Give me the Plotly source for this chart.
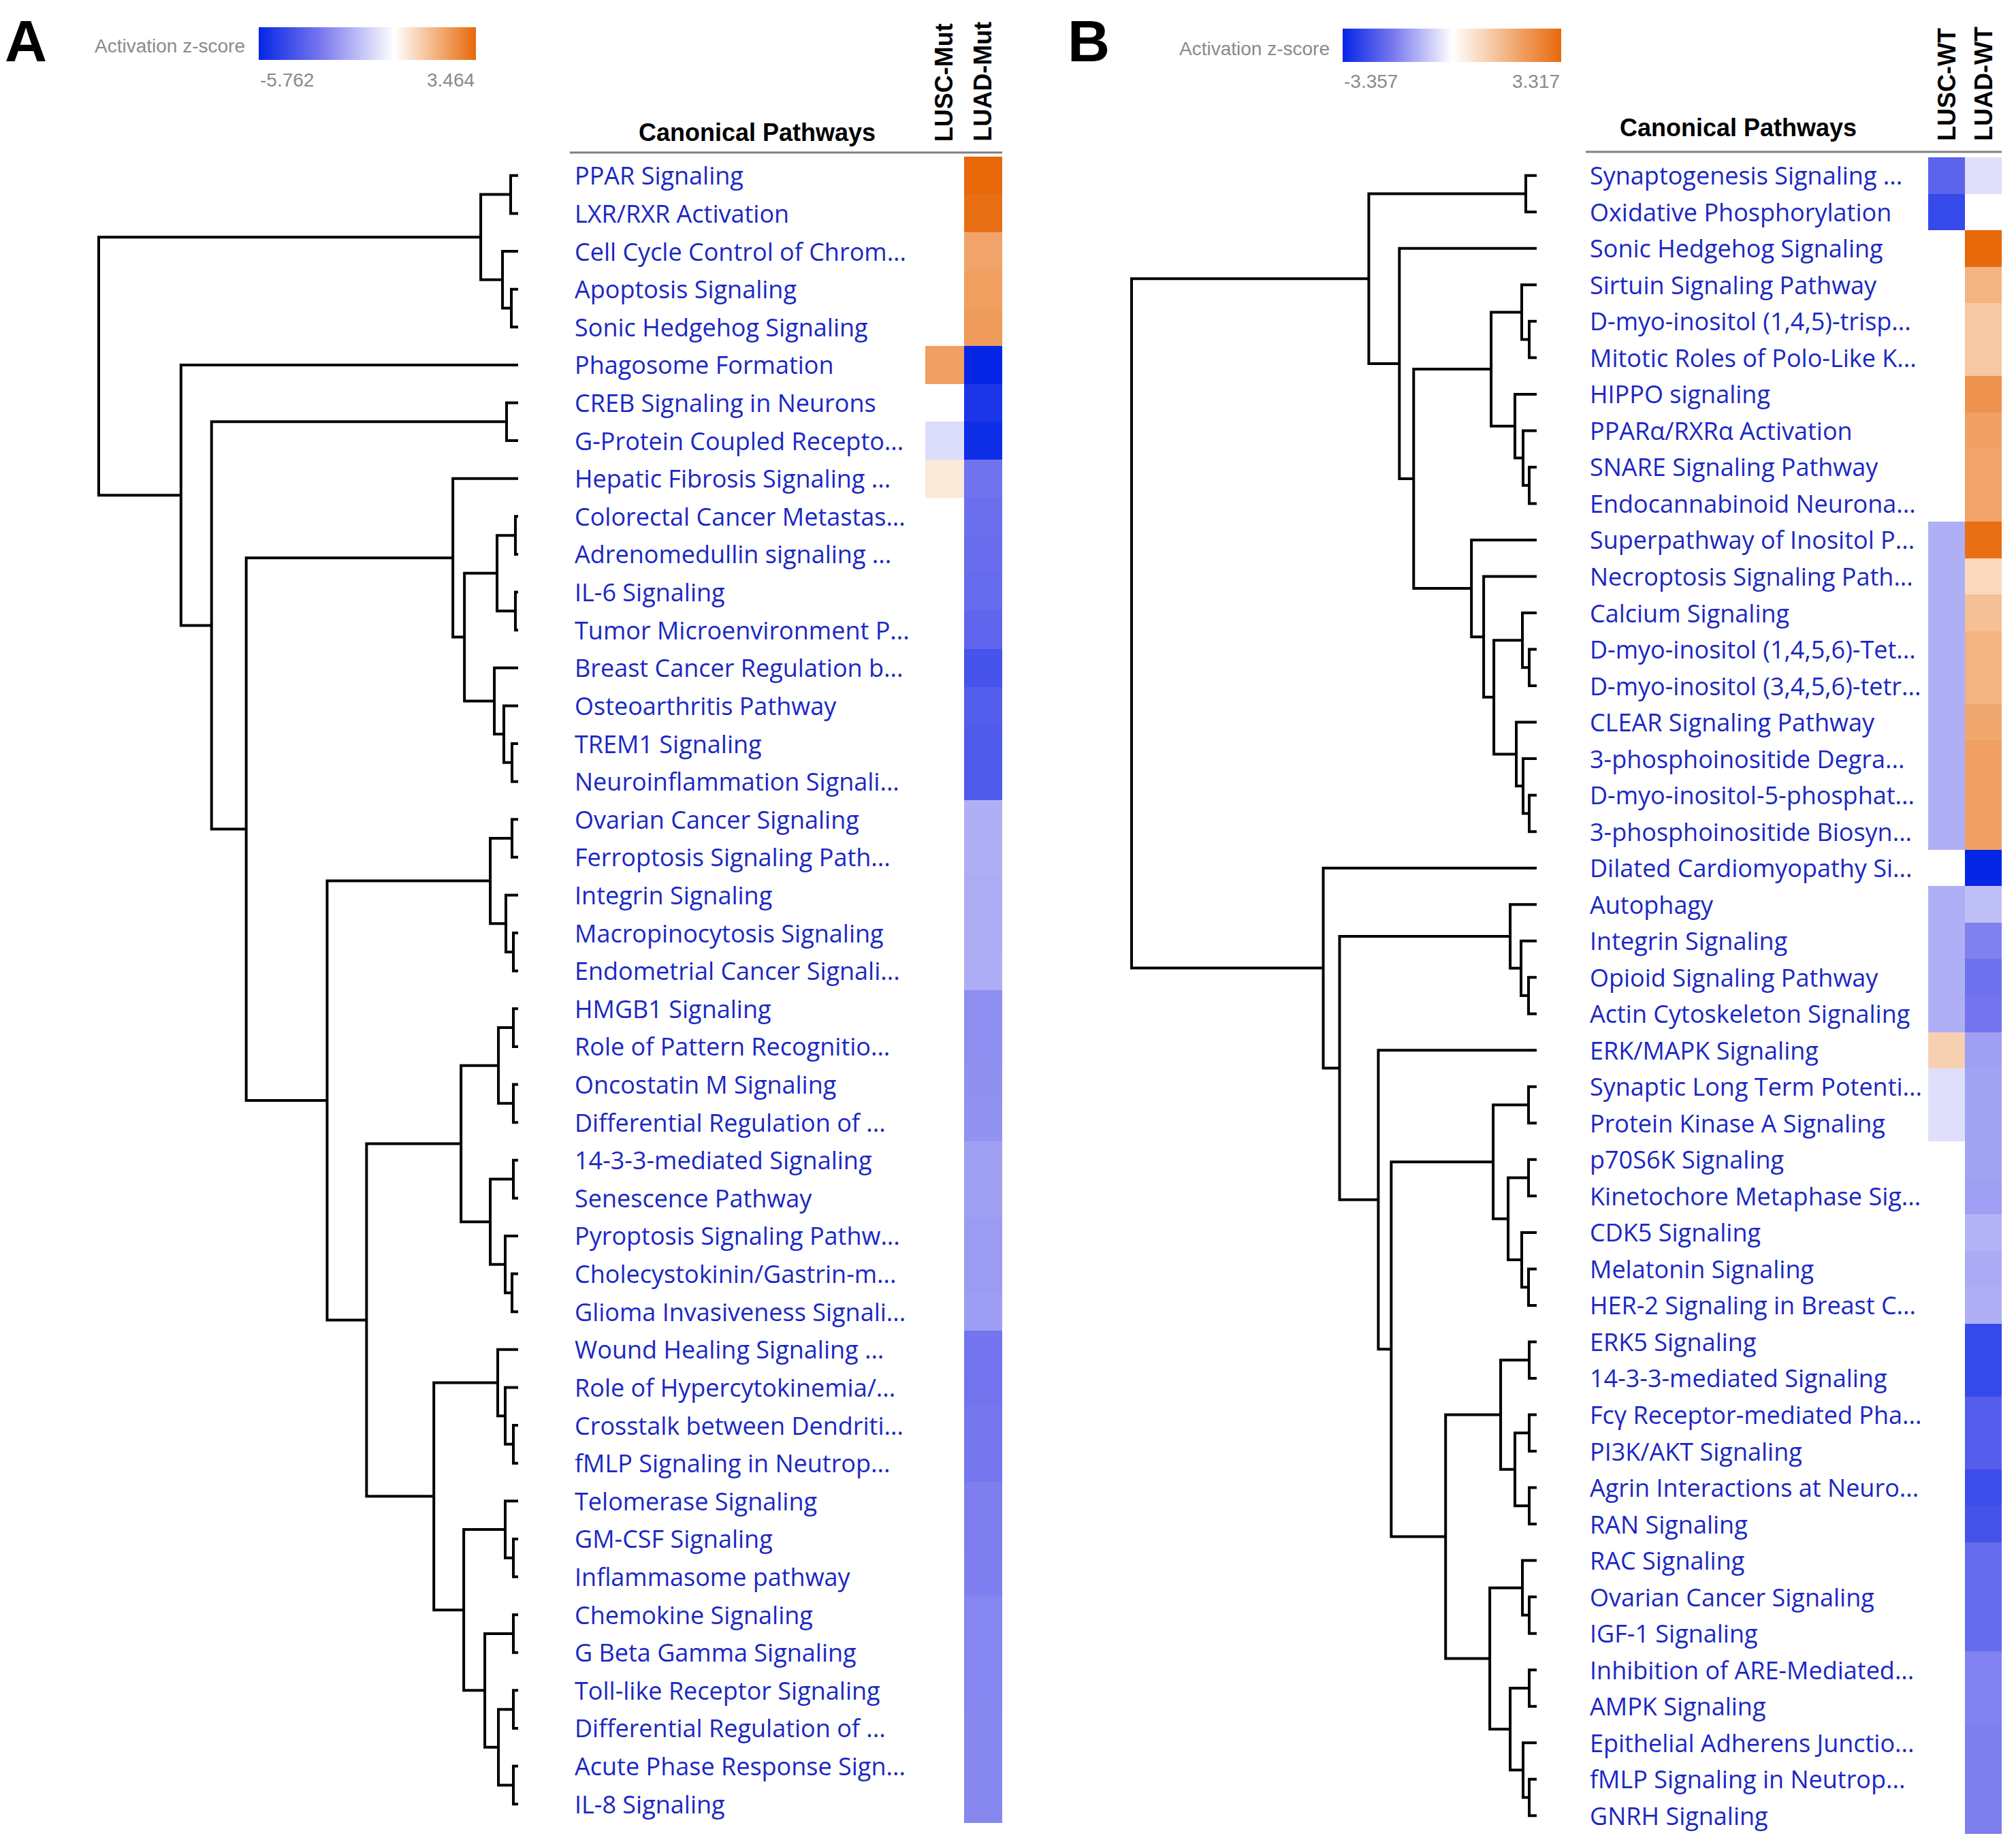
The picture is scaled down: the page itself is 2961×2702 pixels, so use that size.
import plotly.graph_objects as go

# ============================================================
# DATA
# ============================================================
A_PATHWAYS = [
    "PPAR Signaling", "LXR/RXR Activation", "Cell Cycle Control of Chrom...",
    "Apoptosis Signaling", "Sonic Hedgehog Signaling", "Phagosome Formation",
    "CREB Signaling in Neurons", "G-Protein Coupled Recepto...",
    "Hepatic Fibrosis Signaling ...", "Colorectal Cancer Metastas...",
    "Adrenomedullin signaling ...", "IL-6 Signaling", "Tumor Microenvironment P...",
    "Breast Cancer Regulation b...", "Osteoarthritis Pathway", "TREM1 Signaling",
    "Neuroinflammation Signali...", "Ovarian Cancer Signaling",
    "Ferroptosis Signaling Path...", "Integrin Signaling", "Macropinocytosis Signaling",
    "Endometrial Cancer Signali...", "HMGB1 Signaling", "Role of Pattern Recognitio...",
    "Oncostatin M Signaling", "Differential Regulation of ...", "14-3-3-mediated Signaling",
    "Senescence Pathway", "Pyroptosis Signaling Pathw...", "Cholecystokinin/Gastrin-m...",
    "Glioma Invasiveness Signali...", "Wound Healing Signaling ...",
    "Role of Hypercytokinemia/...", "Crosstalk between Dendriti...",
    "fMLP Signaling in Neutrop...", "Telomerase Signaling", "GM-CSF Signaling",
    "Inflammasome pathway", "Chemokine Signaling", "G Beta Gamma Signaling",
    "Toll-like Receptor Signaling", "Differential Regulation of ...",
    "Acute Phase Response Sign...", "IL-8 Signaling",
]
A_COLUMNS = ["LUSC-Mut", "LUAD-Mut"]
A_LUSC_MUT = [
    None, None, None, None, None, 2.19, None, -0.82, 0.51, None,
    None, None, None, None, None, None, None, None, None, None,
    None, None, None, None, None, None, None, None, None, None,
    None, None, None, None, None, None, None, None, None, None,
    None, None, None, None,
]
A_LUAD_MUT = [
    3.46, 3.30, 2.10, 2.22, 2.30, -5.76, -5.25, -5.55, -3.29, -3.40,
    -3.48, -3.55, -3.70, -4.27, -3.95, -4.05, -4.05, -1.86, -1.88, -1.92,
    -1.92, -1.90, -2.61, -2.61, -2.57, -2.52, -2.23, -2.23, -2.33, -2.33,
    -2.28, -3.22, -3.25, -3.18, -3.18, -3.00, -3.00, -2.98, -2.82, -2.82,
    -2.82, -2.78, -2.78, -2.78,
]
A_ZRANGE = (-5.762, 3.464)
# (node, left, right, distance) -- ints are leaf rows
A_MERGES = [
    ("a1", 0, 1, 0.11), ("a2", 3, 4, 0.10), ("a3", 2, "a2", 0.23),
    ("a4", "a1", "a3", 0.55), ("b1", 6, 7, 0.17),
    ("c1", 9, 10, 0.04), ("c2", 11, 12, 0.04), ("c3", "c1", "c2", 0.31),
    ("c4", 15, 16, 0.09), ("c5", 14, "c4", 0.21), ("c6", 13, "c5", 0.35),
    ("c7", "c3", "c6", 0.79), ("c8", 8, "c7", 0.96),
    ("d1", 17, 18, 0.09), ("d2", 20, 21, 0.07), ("d3", 19, "d2", 0.18),
    ("d4", "d1", "d3", 0.41),
    ("e1", 22, 23, 0.07), ("e2", 24, 25, 0.07), ("e3", "e1", "e2", 0.29),
    ("e4", 26, 27, 0.07), ("e5", 29, 30, 0.09), ("e6", 28, "e5", 0.19),
    ("e7", "e4", "e6", 0.41), ("e8", "e3", "e7", 0.84),
    ("f1", 33, 34, 0.07), ("f2", 32, "f1", 0.19), ("f3", 31, "f2", 0.30),
    ("g1", 36, 37, 0.07), ("g2", 35, "g1", 0.19),
    ("h1", 38, 39, 0.07), ("h2", 40, 41, 0.07), ("h3", 42, 43, 0.07),
    ("h4", "h2", "h3", 0.29), ("h5", "h1", "h4", 0.49),
    ("g3", "g2", "h5", 0.80), ("f4", "f3", "g3", 1.24),
    ("e9", "e8", "f4", 2.23), ("d5", "d4", "e9", 2.81),
    ("c9", "c8", "d5", 4.00), ("b2", "b1", "c9", 4.51),
    ("b3", 5, "b2", 4.96), ("root", "a4", "b3", 6.17),
]

B_PATHWAYS = [
    "Synaptogenesis Signaling ...", "Oxidative Phosphorylation", "Sonic Hedgehog Signaling",
    "Sirtuin Signaling Pathway", "D-myo-inositol (1,4,5)-trisp...",
    "Mitotic Roles of Polo-Like K...", "HIPPO signaling", "PPARα/RXRα Activation",
    "SNARE Signaling Pathway", "Endocannabinoid Neurona...", "Superpathway of Inositol P...",
    "Necroptosis Signaling Path...", "Calcium Signaling", "D-myo-inositol (1,4,5,6)-Tet...",
    "D-myo-inositol (3,4,5,6)-tetr...", "CLEAR Signaling Pathway",
    "3-phosphoinositide Degra...", "D-myo-inositol-5-phosphat...",
    "3-phosphoinositide Biosyn...", "Dilated Cardiomyopathy Si...", "Autophagy",
    "Integrin Signaling", "Opioid Signaling Pathway", "Actin Cytoskeleton Signaling",
    "ERK/MAPK Signaling", "Synaptic Long Term Potenti...", "Protein Kinase A Signaling",
    "p70S6K Signaling", "Kinetochore Metaphase Sig...", "CDK5 Signaling",
    "Melatonin Signaling", "HER-2 Signaling in Breast C...", "ERK5 Signaling",
    "14-3-3-mediated Signaling", "Fcγ Receptor-mediated Pha...", "PI3K/AKT Signaling",
    "Agrin Interactions at Neuro...", "RAN Signaling", "RAC Signaling",
    "Ovarian Cancer Signaling", "IGF-1 Signaling", "Inhibition of ARE-Mediated...",
    "AMPK Signaling", "Epithelial Adherens Junctio...", "fMLP Signaling in Neutrop...",
    "GNRH Signaling",
]
B_COLUMNS = ["LUSC-WT", "LUAD-WT"]
B_LUSC_WT = [
    -2.18, -2.70, None, None, None, None, None, None, None, None,
    -1.08, -1.08, -1.08, -1.08, -1.08, -1.08, -1.08, -1.08, -1.08, None,
    -1.08, -1.08, -1.08, -1.08, 1.04, -0.43, -0.43, None, None, None,
    None, None, None, None, None, None, None, None, None, None,
    None, None, None, None, None, None,
]
B_LUAD_WT = [
    -0.43, None, 3.317, 1.66, 1.22, 1.22, 2.37, 2.10, 2.01, 2.01,
    3.16, 0.86, 1.39, 1.66, 1.66, 1.92, 2.10, 2.10, 2.10, -3.357,
    -0.86, -1.71, -1.96, -1.88, -1.30, -1.25, -1.25, -1.25, -1.30, -1.03,
    -1.14, -1.08, -2.70, -2.70, -2.29, -2.29, -2.62, -2.51, -2.07, -2.05,
    -2.05, -1.69, -1.69, -1.74, -1.74, -1.74,
]
B_ZRANGE = (-3.357, 3.317)
B_MERGES = [
    ("p1", 0, 1, 0.16),
    ("q1", 4, 5, 0.11), ("q2", 3, "q1", 0.22), ("q3", 8, 9, 0.11),
    ("q4", 7, "q3", 0.20), ("q5", 6, "q4", 0.32), ("q6", "q2", "q5", 0.67),
    ("r1", 13, 14, 0.11), ("r2", 12, "r1", 0.21), ("r3", 17, 18, 0.11),
    ("r4", 16, "r3", 0.20), ("r5", 15, "r4", 0.30), ("r6", "r2", "r5", 0.63),
    ("r7", 11, "r6", 0.78), ("r8", 10, "r7", 0.96),
    ("q7", "q6", "r8", 1.81), ("q8", 2, "q7", 2.02), ("p2", "p1", "q8", 2.47),
    ("s1", 22, 23, 0.12), ("s2", 21, "s1", 0.23), ("s3", 20, "s2", 0.39),
    ("t1", 25, 26, 0.12), ("t2", 27, 28, 0.12), ("t3", 30, 31, 0.12),
    ("t4", 29, "t3", 0.22), ("t5", "t2", "t4", 0.42), ("t6", "t1", "t5", 0.64),
    ("u1", 32, 33, 0.11), ("u2", 34, 35, 0.11), ("u3", 36, 37, 0.11),
    ("u4", "u2", "u3", 0.32), ("u5", "u1", "u4", 0.53),
    ("v1", 39, 40, 0.11), ("v2", 38, "v1", 0.21), ("v3", 41, 42, 0.11),
    ("v4", 44, 45, 0.11), ("v5", 43, "v4", 0.20), ("v6", "v3", "v5", 0.39),
    ("v7", "v2", "v6", 0.69), ("u6", "u5", "v7", 1.34),
    ("t7", "t6", "u6", 2.14), ("t8", 24, "t7", 2.33),
    ("s4", "s3", "t8", 2.90), ("s5", 19, "s4", 3.14),
    ("root", "p2", "s5", 5.96),
]

# ============================================================
# HELPERS
# ============================================================
W, H = 2961, 2702
PAD = 8                      # page body margin of the html
FIG_W, FIG_H = W - 2 * PAD, H - 2 * PAD
LABEL_BLUE = "#1a28c2"
GREY = "#8a8a8a"


def fx(px):
    return (px - PAD) / FIG_W


def fy(px):
    return 1 - (px - PAD) / FIG_H


def dendro_lines(merges):
    pos = {}
    xs, ys = [], []

    def get(k):
        if isinstance(k, int):
            return float(k), 0.0
        return pos[k]

    for name, left, right, dist in merges:
        yl, dl = get(left)
        yr, dr = get(right)
        xs += [dl, dist, dist, dr, None]
        ys += [yl, yl, yr, yr, None]
        pos[name] = ((yl + yr) / 2, dist)
    return xs, ys


def ipa_scale(zmin, zmax):
    p0 = -zmin / (zmax - zmin)
    return [
        [0.0, "#0526e6"],
        [p0 * 0.44, "#7474ee"],
        [p0, "#ffffff"],
        [p0 + (1 - p0) * 0.5, "#f3b482"],
        [1.0, "#e8680a"],
    ]


# panel geometry (pixels of the picture)
PANELS = [
    dict(letter="A", letter_x=38, names=A_PATHWAYS, cols=A_COLUMNS,
         lusc=A_LUSC_MUT, luad=A_LUAD_MUT, zr=A_ZRANGE, merges=A_MERGES,
         dendro=(140, 761), heat=(1359, 1472), rows=(230, 2677), label_x=842,
         line=(837, 1472, 224), title=(1112, 194), hdr_bottom=210,
         cbar=(380, 699, 40, 48), cbar_title=(362, 68), tick_y=117),
    dict(letter="B", letter_x=1599, names=B_PATHWAYS, cols=B_COLUMNS,
         lusc=B_LUSC_WT, luad=B_LUAD_WT, zr=B_ZRANGE, merges=B_MERGES,
         dendro=(1657, 2257), heat=(2832, 2940), rows=(231, 2693), label_x=2333,
         line=(2329, 2940, 223), title=(2553, 188), hdr_bottom=209,
         cbar=(1972, 2293, 42, 49), cbar_title=(1955, 72), tick_y=120),
]

fig = go.Figure()
annotations = []
shapes = []
layout = {}

for i, p in enumerate(PANELS):
    n = len(p["names"])
    xd = "x" if i == 0 else "x3"
    xh = "x2" if i == 0 else "x4"
    ya = "y" if i == 0 else "y2"
    ca = "coloraxis" if i == 0 else "coloraxis2"

    # dendrogram
    xs, ys = dendro_lines(p["merges"])
    fig.add_trace(go.Scatter(x=xs, y=ys, mode="lines", xaxis=xd, yaxis=ya,
                             line=dict(color="black", width=4),
                             hoverinfo="skip", showlegend=False))

    # heatmap
    z = [[p["lusc"][r], p["luad"][r]] for r in range(n)]
    fig.add_trace(go.Heatmap(z=z, x=[0, 1], y=list(range(n)), coloraxis=ca,
                             xaxis=xh, yaxis=ya, hoverongaps=False,
                             customdata=[[p["names"][r]] * 2 for r in range(n)],
                             hovertemplate="%{customdata}<br>z=%{z}<extra></extra>"))

    left_px, leaf_px = p["dendro"]
    root_d = p["merges"][-1][3]
    scale = (leaf_px - (left_px + 5)) / root_d
    ax_common = dict(visible=False, showgrid=False, zeroline=False)
    layout["xaxis" + ("" if i == 0 else "3")] = dict(
        ax_common, domain=[fx(left_px), fx(leaf_px + 4)],
        range=[(leaf_px - left_px) / scale, -4 / scale], anchor=ya)
    layout["xaxis" + ("2" if i == 0 else "4")] = dict(
        ax_common, domain=[fx(p["heat"][0]), fx(p["heat"][1])],
        range=[-0.5, 1.5], anchor=ya)
    layout["yaxis" + ("" if i == 0 else "2")] = dict(
        ax_common, domain=[fy(p["rows"][1]), fy(p["rows"][0])],
        range=[n - 0.5, -0.5], anchor=xd)

    c0, c1, cy, ct = p["cbar"]
    layout[ca] = dict(
        cmin=p["zr"][0], cmax=p["zr"][1], colorscale=ipa_scale(*p["zr"]),
        colorbar=dict(orientation="h", x=fx(c0), xanchor="left",
                      y=fy(cy), yanchor="top", len=c1 - c0, lenmode="pixels",
                      thickness=ct, thicknessmode="pixels", xpad=0, ypad=0,
                      outlinewidth=0, showticklabels=False, ticks=""))

    # pathway labels
    for r, name in enumerate(p["names"]):
        annotations.append(dict(x=fx(p["label_x"]), xref="paper", y=r, yref=ya,
                                text=name, xanchor="left", yanchor="middle",
                                showarrow=False,
                                font=dict(family="Open Sans", size=36, color=LABEL_BLUE)))

    # column headers (rotated)
    half = (p["heat"][1] - p["heat"][0]) / 2
    for k, col in enumerate(p["cols"]):
        cx = p["heat"][0] + half * k + half / 2
        annotations.append(dict(x=fx(cx), xref="paper",
                                y=fy(p["hdr_bottom"]), yref="paper", text="<b>%s</b>" % col,
                                textangle=-90, xanchor="center", yanchor="bottom",
                                showarrow=False,
                                font=dict(family="Liberation Sans", size=36, color="black")))

    annotations.append(dict(x=fx(p["title"][0]), y=fy(p["title"][1]), xref="paper", yref="paper",
                            text="<b>Canonical Pathways</b>", showarrow=False,
                            xanchor="center", yanchor="middle",
                            font=dict(family="Liberation Sans", size=36, color="black")))
    annotations.append(dict(x=fx(p["letter_x"]), y=fy(60), xref="paper", yref="paper",
                            text="<b>%s</b>" % p["letter"], showarrow=False,
                            xanchor="center", yanchor="middle",
                            font=dict(family="Liberation Sans", size=86, color="black")))
    annotations.append(dict(x=fx(p["cbar_title"][0]), y=fy(p["cbar_title"][1]),
                            xref="paper", yref="paper", text="Activation z-score",
                            showarrow=False, xanchor="right", yanchor="middle",
                            font=dict(family="Liberation Sans", size=28, color=GREY)))
    annotations.append(dict(x=fx(c0), y=fy(p["tick_y"]), xref="paper", yref="paper",
                            text="%.3f" % p["zr"][0], showarrow=False,
                            xanchor="left", yanchor="middle",
                            font=dict(family="Liberation Sans", size=28, color=GREY)))
    annotations.append(dict(x=fx(c1), y=fy(p["tick_y"]), xref="paper", yref="paper",
                            text="%.3f" % p["zr"][1], showarrow=False,
                            xanchor="right", yanchor="middle",
                            font=dict(family="Liberation Sans", size=28, color=GREY)))

    lx0, lx1, ly = p["line"]
    shapes.append(dict(type="line", xref="paper", yref="paper",
                       x0=fx(lx0), x1=fx(lx1), y0=fy(ly), y1=fy(ly),
                       line=dict(color="#808080", width=3)))

fig.update_layout(
    width=FIG_W, height=FIG_H,
    margin=dict(l=0, r=0, t=0, b=0),
    paper_bgcolor="white", plot_bgcolor="rgba(0,0,0,0)",
    showlegend=False,
    annotations=annotations,
    shapes=shapes,
    **layout,
)

fig.write_html("out.html")
